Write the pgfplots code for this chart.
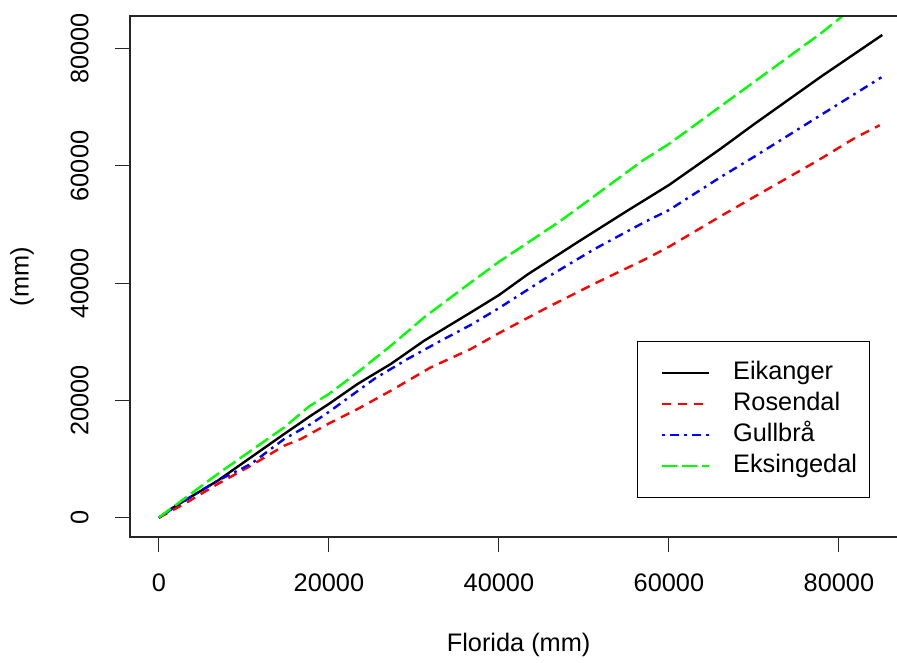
\documentclass[border=0pt]{standalone}
\usepackage{fontspec}
\setmainfont{Liberation Sans}
\usepackage{pgfplots}
\pgfplotsset{compat=1.18}
\usepackage{pgfplotstable}

\pgfplotstableread{
x y
0 0
1410 1500
6910 6310
10820 10290
14740 14280
17880 17410
20000 19410
23380 22820
27290 26230
31210 30200
36710 35030
40000 37970
43380 41500
49260 47000
55140 52390
60000 56740
66050 62900
70000 67100
77880 75220
85100 82340
}\eikanger

\pgfplotstableread{
x y
0 0
2980 2340
6910 5750
10820 8870
14740 12290
16710 13430
20000 16070
23380 18550
27290 21670
31990 25650
36710 28790
40000 31480
45730 35890
51210 39900
57090 44000
60000 46210
66050 51400
70000 54700
77600 61000
81800 64710
84800 66950
}\rosendal

\pgfplotstableread{
x y
0 0
2980 2900
6910 6310
10820 9160
14740 13430
17880 15990
20000 18050
25330 23670
29260 27080
33180 30200
36710 32900
40000 35750
45330 40700
51210 45800
57090 50390
60000 52470
66050 58070
70000 61540
77880 68690
85000 75120
}\gullbra

\pgfplotstableread{
x y
0 50
6910 7460
10820 11430
14740 15410
17680 19000
20000 21110
23380 24800
27290 29350
31210 34180
36710 40150
40000 43650
41410 45000
47290 50680
53180 56950
56910 60920
60000 63760
70000 74310
77880 82630
80320 85460
85000 90400
}\eksingedal

\begin{document}
\fontsize{19}{23}\selectfont
\begin{tikzpicture}
\begin{axis}[name=ax, scale only axis,
  width=573.75pt, height=390.75pt,
  xmin=-3400, xmax=86600, ymin=-3291, ymax=85578,
  xtick={0,20000,40000,60000,80000},
  ytick={0,20000,40000,60000,80000},
  scaled ticks=false,
  /pgf/number format/assume math mode=true,
  tick label style={font=\fontsize{19}{23}\selectfont, /pgf/number format/fixed, /pgf/number format/set thousands separator={}},
  xticklabel style={anchor=center, yshift=-23pt},
  yticklabel style={xshift=-26.6pt, rotate=90, anchor=center},
  tick align=outside, xtick pos=left, ytick pos=left,
  major tick length=11.25pt,
  tick style={line width=0.8pt, black!85},
  axis line style={draw=none},
  every axis x label/.style={at={(rel axis cs:0.508,-0.2073)}, anchor=center},
  every axis y label/.style={at={(rel axis cs:-0.1412,0.5)}, rotate=90, anchor=center},
  xlabel={Florida (mm)}, ylabel={(mm)},
  label style={font=\fontsize{19}{23}\selectfont},
  legend style={at={(rel axis cs:0.663,0.376)}, anchor=north west, draw=black, line width=0.8pt,
    font=\fontsize{19}{23}\selectfont, inner xsep=9pt, inner ysep=14.5pt,
    nodes={inner sep=0pt, text height=14pt, text depth=4pt}, row sep=5.25pt,
    /tikz/every odd column/.append style={column sep=17.25pt}},
  legend cell align=left,
  legend image code/.code={\path (0pt,0pt) (43.5pt,0pt); \draw[#1] (8.25pt,0pt) -- (43.5pt,0pt);},
  clip=true,
]
\addplot[black, line width=1.8pt] table {\eikanger};
\addlegendentry{Eikanger}
\addplot[red, line width=1.8pt, dash pattern=on 7pt off 5pt] table {\rosendal};
\addlegendentry{Rosendal}
\addplot[blue, line width=1.8pt, dash pattern=on 2pt off 4pt on 6.5pt off 4pt] table {\gullbra};
\addlegendentry{Gullbrå}
\addplot[green, line width=1.8pt, dash pattern=on 11pt off 4pt] table {\eksingedal};
\addlegendentry{Eksingedal}
\end{axis}
\draw[line width=0.8pt, black!85] ([xshift=1.5pt]ax.north east) -- (ax.north west) -- (ax.south west) -- ([xshift=1.5pt]ax.south east);
\pgfresetboundingbox
\path[use as bounding box] ([xshift=-97.5pt, yshift=-93.75pt]ax.south west) rectangle ([xshift=1.5pt, yshift=12pt]ax.north east);
\end{tikzpicture}
\end{document}
